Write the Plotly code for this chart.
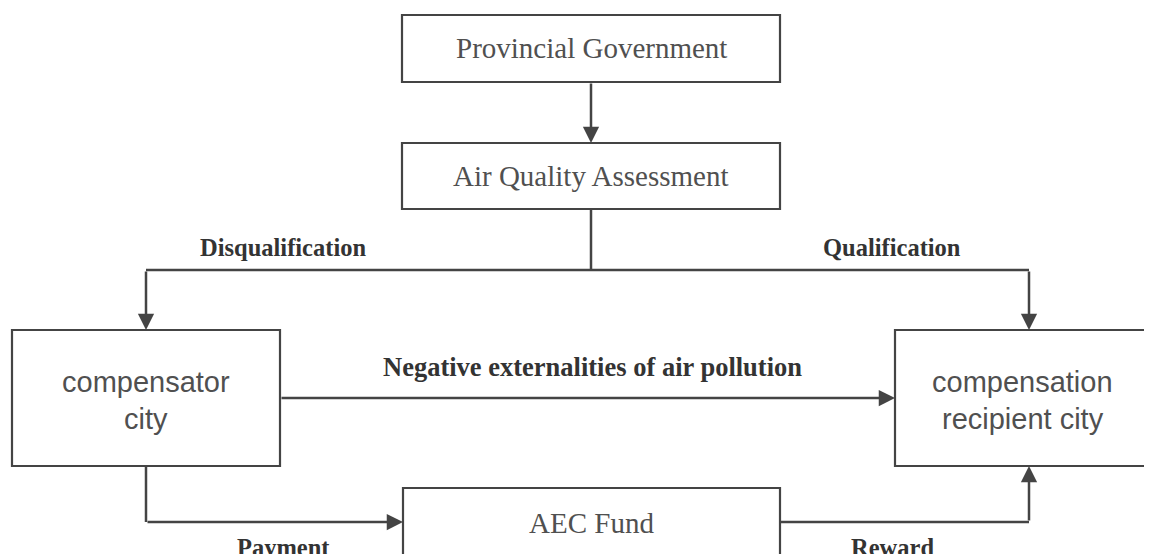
import plotly.graph_objects as go

# Nodes (boxes) of the flowchart
node_labels = ["Provincial Government", "Air Quality Assessment", "compensator<br>city",
               "compensation<br>recipient city", "AEC Fund"]
node_x0 = [402, 402, 12, 895, 403]
node_x1 = [780, 780, 280, 1150, 780]
node_y0 = [15, 143, 330, 330, 488]
node_y1 = [82, 209, 466, 466, 580]
node_text_y = [48, 176, 400, 400, 523]
node_font = ["Liberation Serif", "Liberation Serif", "Liberation Sans", "Liberation Sans", "Liberation Serif"]
node_size = [29, 29, 29, 29, 29]

# Edges as polylines (last segment carries an arrow head)
edges = [
    [(591, 82), (591, 143)],
    [(591, 209), (591, 270), (146, 270), (146, 330)],
    [(591, 270), (1029, 270), (1029, 330)],
    [(280, 398), (895, 398)],
    [(146, 466), (146, 522), (403, 522)],
    [(780, 522), (1029, 522), (1029, 466)],
]

edge_labels = ["Disqualification", "Qualification", "Negative externalities of air pollution", "Payment", "Reward"]
edge_label_x = [283, 892, 592, 283, 892]
edge_label_y = [247, 247, 367, 547, 547]
edge_label_size = [24.5, 24.5, 26.5, 24.5, 24.5]

LINE = "#444444"
TEXT = "#505050"
OFF = 8  # page body margin

fig = go.Figure()
fig.add_trace(go.Scatter(x=[OFF, 1152], y=[OFF, 554], mode="markers", marker=dict(opacity=0),
                         hoverinfo="skip", showlegend=False))

shapes = []
annotations = []
for lab, x0, x1, y0, y1, ty, fam, sz in zip(node_labels, node_x0, node_x1, node_y0, node_y1,
                                            node_text_y, node_font, node_size):
    shapes.append(dict(type="rect", xref="x", yref="y", x0=x0, x1=x1, y0=y0, y1=y1,
                       line=dict(color=LINE, width=2.2), fillcolor="white", layer="above"))
    lines = lab.split("<br>")
    n = len(lines)
    for i, ln in enumerate(lines):
        yy = ty + (i - (n - 1) / 2) * 37
        annotations.append(dict(x=(x0 + x1) / 2, y=yy, xref="x", yref="y", text=ln, showarrow=False,
                                font=dict(family=fam, size=sz, color=TEXT), align="center"))

for pts in edges:
    for (xa, ya), (xb, yb) in zip(pts[:-2], pts[1:-1]):
        shapes.append(dict(type="line", xref="x", yref="y", x0=xa, y0=ya, x1=xb, y1=yb,
                           line=dict(color=LINE, width=2.5)))
    (xa, ya), (xb, yb) = pts[-2], pts[-1]
    annotations.append(dict(x=xb, y=yb, ax=xa, ay=ya, xref="x", yref="y", axref="x", ayref="y",
                            text="", showarrow=True, arrowhead=2, arrowsize=1.3, arrowwidth=2.5,
                            arrowcolor=LINE, standoff=0))

for lab, x, y, sz in zip(edge_labels, edge_label_x, edge_label_y, edge_label_size):
    annotations.append(dict(x=x, y=y, xref="x", yref="y", text="<b>" + lab + "</b>", showarrow=False,
                            font=dict(family="Liberation Serif", size=sz, color="#333333")))

fig.update_layout(
    width=1152, height=554, margin=dict(l=0, r=0, t=0, b=0),
    plot_bgcolor="white", paper_bgcolor="white",
    xaxis=dict(range=[OFF, 1152 + OFF], visible=False, fixedrange=True),
    yaxis=dict(range=[554 + OFF, OFF], visible=False, fixedrange=True),
    shapes=shapes, annotations=annotations, showlegend=False,
)
fig.write_html("out.html")
